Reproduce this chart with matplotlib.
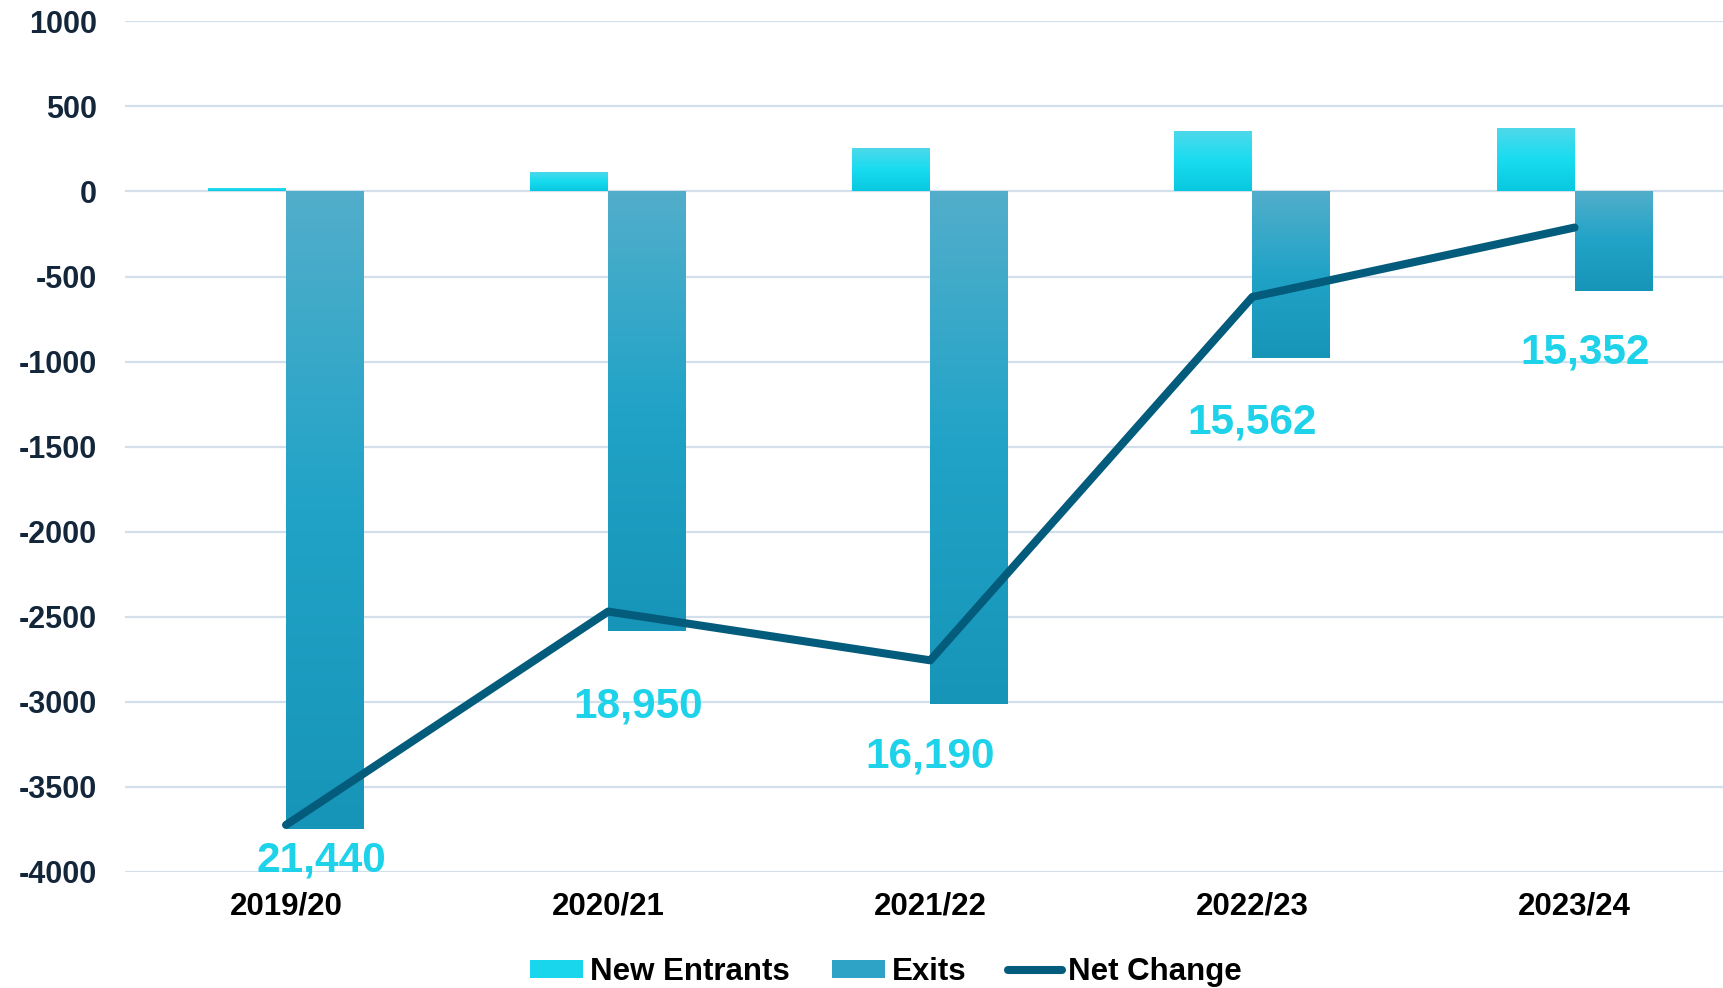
import numpy as np
import matplotlib
matplotlib.use("Agg")
import matplotlib.pyplot as plt
from matplotlib.colors import LinearSegmentedColormap
from matplotlib.patches import Patch
from matplotlib.lines import Line2D

plt.rcParams['font.family'] = ['Liberation Sans', 'DejaVu Sans']
plt.rcParams['font.weight'] = 'bold'

# data
years = ['2019/20', '2020/21', '2021/22', '2022/23', '2023/24']
new_entrants = [20, 112, 257, 357, 374]
exits = [-3747, -2584, -3015, -981, -588]
net_change = [-3725, -2470, -2757, -620, -212]
totals = ['21,440', '18,950', '16,190', '15,562', '15,352']

# where the total labels sit (x offset from category, y baseline)
label_dx = [0.11, 0.094, 0.0, 0.0, 0.033]
label_y = [-4000, -3095, -3386, -1425, -1013]

cmap_new = LinearSegmentedColormap.from_list('new', ['#08c8df', '#19dcf0', '#50d8ea'])
cmap_exit = LinearSegmentedColormap.from_list('exit', ['#1795b8', '#20a3c7', '#52aecb'])

fig = plt.figure(figsize=(17.24, 9.88), dpi=100)
ax = fig.add_axes([0.0723, 0.1177, 1 - 0.0723, 0.8606])

x = np.arange(len(years))
w = 0.242

def gradient_bars(xs, vals, cmap, label):
    bars = ax.bar(xs, vals, w, color='none', edgecolor='none', zorder=2, label=label)
    grad = np.linspace(0, 1, 256).reshape(-1, 1)
    for b, v in zip(bars, vals):
        x0 = b.get_x()
        x1 = x0 + b.get_width()
        y0, y1 = sorted([0, v])
        # light end at the top of the bar, dark at the bottom
        im = ax.imshow(grad, cmap=cmap, extent=[x0, x1, y0, y1], origin='lower',
                       aspect='auto', zorder=2, interpolation='bilinear')
        im.set_clip_path(b)
    return bars

gradient_bars(x - w / 2, new_entrants, cmap_new, 'New Entrants')
gradient_bars(x + w / 2, exits, cmap_exit, 'Exits')

ax.plot(x, net_change, color='#045c7c', lw=5.8, solid_capstyle='round',
        solid_joinstyle='round', zorder=4)

for i, t in enumerate(totals):
    ax.text(x[i] + label_dx[i], label_y[i], t, ha='center', va='baseline',
            fontsize=30.5, fontweight='bold', color='#1ed2ea', zorder=5)

ax.set_xlim(-0.501, 4.464)
ax.set_ylim(-4000, 1000)
ax.set_yticks(np.arange(-4000, 1001, 500))
ax.set_yticklabels([str(v) for v in range(-4000, 1001, 500)])
ax.set_xticks(x)
ax.set_xticklabels(years)
ax.tick_params(axis='y', length=0, pad=20, labelsize=22, labelcolor='#13263a')
ax.tick_params(axis='x', length=0, pad=14, labelsize=22.5, labelcolor='black')
for lab in ax.get_xticklabels() + ax.get_yticklabels():
    lab.set_fontweight('bold')

ax.grid(axis='y', color='#d3e0ec', lw=1.6, zorder=0)
ax.set_axisbelow(True)
for s in ax.spines.values():
    s.set_visible(False)

handles = [
    Patch(facecolor='#19d6ec', edgecolor='none', label='New Entrants'),
    Patch(facecolor='#2ea3c6', edgecolor='none', label='Exits'),
    Line2D([0], [0], color='#045c7c', lw=5.8, solid_capstyle='round', label='Net Change'),
]
fig.legend(handles=handles, loc='center', bbox_to_anchor=(886 / 1724, 1 - 972 / 988),
           ncol=3, frameon=False, fontsize=22.5, handlelength=1.72, handleheight=0.55,
           handletextpad=0.2, columnspacing=1.35, borderaxespad=0)

plt.savefig('out.png', dpi=100)
